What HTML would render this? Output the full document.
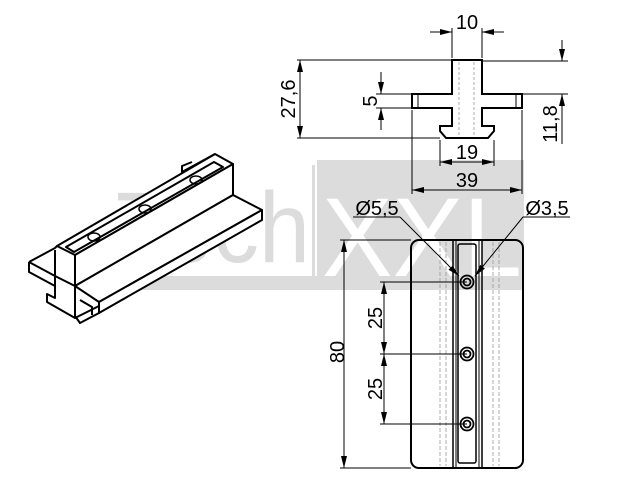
<!DOCTYPE html>
<html><head><meta charset="utf-8"><style>
html,body{margin:0;padding:0;background:#fff;}
svg{display:block;}
text{font-family:"Liberation Sans",sans-serif;fill:#000;}
</style></head><body>
<svg width="640" height="480" viewBox="0 0 640 480" xmlns="http://www.w3.org/2000/svg">
<defs>
<marker id="a" viewBox="0 0 12 6" refX="12" refY="3" markerWidth="12" markerHeight="6" orient="auto-start-reverse" markerUnits="userSpaceOnUse" preserveAspectRatio="none"><path d="M0,0 L12,3 L0,6 z" fill="#000"/></marker>
</defs>
<rect x="317" y="160" width="207" height="130" fill="#dcdcdc"/>
<rect x="116" y="276" width="201" height="14" fill="#dcdcdc"/>
<rect x="312" y="165" width="3" height="111" fill="#dcdcdc"/>
<text x="116" y="262" font-size="100" style="fill:#dcdcdc" textLength="194" lengthAdjust="spacingAndGlyphs">Tech</text>
<text x="322" y="276" font-size="112" style="fill:#fff" textLength="200" lengthAdjust="spacingAndGlyphs">XXL</text>

<g fill="none" stroke="#000" stroke-width="1">
<path d="M452,60 L482,60 L482,94 L522,94 L522,108 L482,108 L482,126 L494,126 L494,131 L488,138 L446,138 L440,131 L440,126 L452,126 L452,108 L412,108 L412,94 L452,94 Z" stroke-width="2"/>
<line x1="418" y1="94" x2="418" y2="108"/><line x1="516" y1="94" x2="516" y2="108"/>
<g stroke="#999" stroke-dasharray="3,2" stroke-width="0.8"><line x1="459" y1="62" x2="459" y2="136"/><line x1="474" y1="62" x2="474" y2="136"/></g>
<line x1="452" y1="58" x2="452" y2="28"/><line x1="482" y1="58" x2="482" y2="28"/>
<line x1="430" y1="32" x2="452" y2="32" marker-end="url(#a)"/><line x1="504" y1="32" x2="482" y2="32" marker-end="url(#a)"/>
<line x1="297" y1="60" x2="452" y2="60"/><line x1="297" y1="138" x2="440" y2="138"/>
<line x1="300" y1="60" x2="300" y2="138" marker-start="url(#a)" marker-end="url(#a)"/>
<line x1="376" y1="94" x2="412" y2="94"/><line x1="376" y1="108" x2="412" y2="108"/>
<line x1="381" y1="72" x2="381" y2="94" marker-end="url(#a)"/><line x1="381" y1="130" x2="381" y2="108" marker-end="url(#a)"/>
<line x1="482" y1="61" x2="568" y2="61"/><line x1="522" y1="94" x2="568" y2="94"/>
<line x1="562" y1="40" x2="562" y2="61" marker-end="url(#a)"/><line x1="562" y1="144" x2="562" y2="94" marker-end="url(#a)"/>
<line x1="440" y1="140" x2="440" y2="166"/><line x1="494" y1="140" x2="494" y2="166"/>
<line x1="440" y1="162" x2="494" y2="162" marker-start="url(#a)" marker-end="url(#a)"/>
<line x1="412" y1="110" x2="412" y2="194"/><line x1="522" y1="110" x2="522" y2="194"/>
<line x1="412" y1="190" x2="522" y2="190" marker-start="url(#a)" marker-end="url(#a)"/>

<rect x="411" y="240" width="112" height="228" rx="8" stroke-width="2"/>
<line x1="453" y1="240" x2="453" y2="468" stroke-width="1.5"/><line x1="456" y1="240" x2="456" y2="468"/>
<line x1="479" y1="240" x2="479" y2="468"/><line x1="482" y1="240" x2="482" y2="468" stroke-width="1.5"/>
<rect x="458" y="244" width="18" height="219" rx="2" stroke-width="1.5"/>
<g stroke="#999" stroke-dasharray="4,2" stroke-width="0.8"><line x1="440" y1="242" x2="440" y2="466"/><line x1="446" y1="242" x2="446" y2="466"/><line x1="493" y1="242" x2="493" y2="466"/><line x1="499" y1="242" x2="499" y2="466"/></g>
<g stroke-width="1.8"><circle cx="467" cy="282" r="6.5"/><circle cx="467" cy="282" r="3.5"/><circle cx="467" cy="354" r="6.5"/><circle cx="467" cy="354" r="3.5"/><circle cx="467" cy="424" r="6.5"/><circle cx="467" cy="424" r="3.5"/></g>
<line x1="340" y1="240" x2="411" y2="240"/><line x1="340" y1="468" x2="411" y2="468"/>
<line x1="344" y1="240" x2="344" y2="468" marker-start="url(#a)" marker-end="url(#a)"/>
<line x1="380" y1="282" x2="467" y2="282"/><line x1="380" y1="354" x2="467" y2="354"/><line x1="380" y1="424" x2="467" y2="424"/>
<line x1="384" y1="282" x2="384" y2="354" marker-start="url(#a)" marker-end="url(#a)"/>
<line x1="384" y1="354" x2="384" y2="424" marker-start="url(#a)" marker-end="url(#a)"/>
<line x1="353" y1="217" x2="400" y2="217"/><line x1="400" y1="217" x2="459" y2="276" marker-end="url(#a)"/>
<line x1="523" y1="217" x2="570" y2="217"/><line x1="523" y1="217" x2="475" y2="276" marker-end="url(#a)"/>

<g stroke-width="2" stroke-linejoin="round">
<path d="M57,246 L215,154 L233,164 L75,255 Z" fill="#fff"/>
<path d="M66,247 L214,162 L223,167 L74,252 Z"/>
<path d="M75,255 L233,164 L233,195 L75,286 Z" fill="#fff"/>
<path d="M75,286 L233,195 L262,210 L99,302 Z" fill="#fff"/>
<path d="M99,302 L262,210 L262,220 L99,313 Z" fill="#fff"/>
<path d="M99,313 L80,323 L75,316"/>
<path d="M215,154 L182,172 L182,166 L192,162"/>
<path d="M29,262 L55,248 L57,246 M29,262 L29,272 L55,286 L55,298 L47,294 L47,302 L75,318 L99,306"/>
<path d="M29,262 L55,276 L55,286 M55,276 L55,250 M55,276 L75,286 M75,286 L75,318"/>
<path d="M80,300 L92,307 L92,315"/>
</g>
<g stroke-width="1.5"><ellipse cx="94" cy="237" rx="6" ry="4"/><ellipse cx="145" cy="209" rx="6" ry="4"/><ellipse cx="196" cy="180" rx="6" ry="4"/></g>
</g>
<g font-size="20">
<text x="467" y="29" text-anchor="middle">10</text>
<text x="467" y="159" text-anchor="middle">19</text>
<text x="467" y="187" text-anchor="middle">39</text>
<text transform="translate(295,99) rotate(-90)" text-anchor="middle">27,6</text>
<text transform="translate(377,101) rotate(-90)" text-anchor="middle">5</text>
<text transform="translate(557,124) rotate(-90)" text-anchor="middle">11,8</text>
<text x="377" y="215" text-anchor="middle">Ø5,5</text>
<text x="547" y="215" text-anchor="middle">Ø3,5</text>
<text transform="translate(344,352) rotate(-90)" text-anchor="middle">80</text>
<text transform="translate(382,318) rotate(-90)" text-anchor="middle">25</text>
<text transform="translate(382,389) rotate(-90)" text-anchor="middle">25</text>
</g>
</svg>
</body></html>
